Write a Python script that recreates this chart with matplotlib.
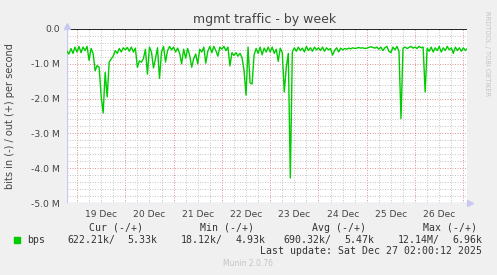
import numpy as np
import matplotlib.pyplot as plt

# hours relative to 19 Dec 00:00, one sample per hour
hours = np.arange(-5, 195)

# incoming traffic, in Mbit/s (drawn negative, munin style)
bps_in = [
    # 18 Dec 19:00-23:00
    -0.64, -0.72, -0.56, -0.70, -0.52,
    # 19 Dec
    -0.66, -0.50, -0.68, -0.52, -0.62, -0.50, -0.90, -0.56, -0.70, -1.20, -1.05, -1.10,
    -1.93, -2.41, -1.25, -1.95, -0.95, -0.86, -0.78, -0.62, -0.70, -0.56, -0.66, -0.54,
    # 20 Dec
    -0.60, -0.53, -0.64, -0.52, -0.66, -0.55, -1.10, -0.92, -0.95, -0.85, -0.58, -1.30,
    -0.52, -0.66, -1.12, -0.85, -0.54, -1.42, -0.66, -0.50, -0.95, -0.62, -0.50, -0.60,
    # 21 Dec
    -0.52, -0.66, -0.55, -0.70, -1.00, -0.58, -0.84, -0.56, -0.76, -1.10, -0.85, -0.72,
    -1.00, -0.58, -0.66, -0.52, -0.98, -0.64, -0.50, -0.68, -0.50, -0.62, -0.78, -0.52,
    # 22 Dec
    -0.58, -0.50, -0.62, -0.52, -1.06, -0.68, -0.76, -0.68, -0.78, -0.70, -0.82, -1.19,
    -1.90, -0.52, -1.55, -1.58, -0.75, -0.56, -0.70, -0.52, -0.74, -0.55, -0.66, -0.52,
    # 23 Dec
    -0.66, -0.52, -0.70, -0.58, -0.93, -0.55, -0.68, -1.81, -1.10, -0.70, -4.28, -0.66,
    -0.54, -0.64, -0.52, -0.62, -0.55, -0.66, -0.50, -0.62, -0.54, -0.64, -0.52, -0.60,
    # 24 Dec
    -0.54, -0.62, -0.52, -0.64, -0.54, -0.60, -0.56, -0.75, -0.62, -0.54, -0.66, -0.55,
    -0.60, -0.56, -0.58, -0.55, -0.57, -0.54, -0.56, -0.55, -0.53, -0.55, -0.54, -0.56,
    # 25 Dec
    -0.55, -0.53, -0.51, -0.53, -0.55, -0.52, -0.58, -0.52, -0.62, -0.54, -0.50, -0.64,
    -0.68, -0.52, -0.60, -0.50, -0.64, -2.57, -0.55, -0.52, -0.56, -0.53, -0.50, -0.55,
    # 26 Dec
    -0.52, -0.56, -0.50, -0.54, -0.52, -1.81, -0.55, -0.64, -0.52, -0.66, -0.54, -0.62,
    -0.50, -0.66, -0.54, -0.62, -0.50, -0.60, -0.54, -0.70, -0.52, -0.62, -0.54, -0.64,
    # 27 Dec 00:00-02:00
    -0.54, -0.62, -0.56,
]

day_labels = ["19 Dec", "20 Dec", "21 Dec", "22 Dec", "23 Dec", "24 Dec", "25 Dec", "26 Dec"]
y_ticks = [0, -1, -2, -3, -4, -5]
y_labels = ["0.0", "-1.0 M", "-2.0 M", "-3.0 M", "-4.0 M", "-5.0 M"]

headers = ["Cur (-/+)", "Min (-/+)", "Avg (-/+)", "Max (-/+)"]
in_stats = ["622.21k/", "18.12k/", "690.32k/", "12.14M/"]
out_stats = ["5.33k", "4.93k", "5.47k", "6.96k"]

W, H = 497, 275
fig = plt.figure(figsize=(W / 100, H / 100), dpi=100)
fig.patch.set_facecolor("#F0F0F0")

x0, x1, ytop, ybot = 67, 467, 29, 203
ax = fig.add_axes([x0 / W, 1 - ybot / H, (x1 - x0) / W, (ybot - ytop) / H])
ax.set_facecolor("white")

xmin, xmax = -4.97, 193.8
ax.set_xlim(xmin, xmax)
ax.set_ylim(-5, 0)

# grid: minor grey, major red (munin look)
dots = (0, (1, 1.5))
for h in np.arange(-6, 196, 6):
    if xmin < h < xmax:
        if h % 24 == 0:
            ax.axvline(h, color="#E09A9A", lw=0.72, ls=dots, zorder=1)
        else:
            ax.axvline(h, color="#C8C8C8", lw=0.72, ls=dots, zorder=1)
for v in np.arange(-5, 0.01, 0.2):
    v = round(v, 1)
    if v in (0, -5):
        continue
    if abs(v - round(v)) < 1e-6:
        ax.axhline(v, color="#E09A9A", lw=0.72, ls=dots, zorder=1)
    else:
        ax.axhline(v, color="#C8C8C8", lw=0.72, ls=dots, zorder=1)

ax.plot(hours, bps_in, color="#00CC00", lw=1.0, zorder=3)
ax.axhline(0, color="black", lw=1.2, zorder=4)

for s in ax.spines.values():
    s.set_visible(False)
ax.axvline(xmin, color="#C8C8F0", lw=1.0, zorder=2)
ax.axhline(-5, color="#C8C8F0", lw=1.0, zorder=2)
ax.plot([xmin], [0.1], marker="^", color="#C8C8F0", ms=4, clip_on=False, zorder=5)
ax.plot([xmax + 1.5], [-5], marker=">", color="#C8C8F0", ms=4, clip_on=False, zorder=5)

ax.set_xticks([12 + 24 * i for i in range(len(day_labels))])
ax.set_xticklabels(day_labels, fontsize=6.6, color="#444444")
ax.set_yticks(y_ticks)
ax.set_yticklabels(y_labels, fontsize=6.7, color="#444444")
ax.tick_params(length=0, pad=5)

fig.text(265 / W, 1 - 20 / H, "mgmt traffic - by week", ha="center", va="center",
         fontsize=9, color="#444444")
fig.text(10 / W, 1 - 116 / H, "bits in (-) / out (+) per second", rotation=90,
         ha="center", va="center", fontsize=7, color="#444444")
fig.text(487 / W, 1 - 54 / H, "RRDTOOL / TOBI OETIKER", rotation=270,
         ha="center", va="center", fontsize=4.8, color="#C4C4C4")

# legend block
mono = "DejaVu Sans Mono"
hdr_x = [89, 200, 312, 423]
in_end = [115, 223, 331, 440]
out_end = [157, 266, 374, 482]
for i in range(4):
    fig.text(hdr_x[i] / W, 1 - 228 / H, headers[i], family=mono, fontsize=7.1,
             ha="left", va="center", color="#333333")
    fig.text(in_end[i] / W, 1 - 240 / H, in_stats[i], family=mono, fontsize=7.1,
             ha="right", va="center", color="#333333")
    fig.text(out_end[i] / W, 1 - 240 / H, out_stats[i], family=mono, fontsize=7.1,
             ha="right", va="center", color="#333333")
fig.patches.append(plt.Rectangle((14 / W, 1 - 243 / H), 6 / W, 6 / H,
                                 transform=fig.transFigure, color="#00CC00"))
fig.text(27 / W, 1 - 240 / H, "bps", family=mono, fontsize=7.1, ha="left",
         va="center", color="#333333")
fig.text(482 / W, 1 - 251 / H, "Last update: Sat Dec 27 02:00:12 2025", family=mono,
         fontsize=7.1, ha="right", va="center", color="#333333")
fig.text(248 / W, 1 - 264 / H, "Munin 2.0.76", fontsize=5.5, ha="center",
         va="center", color="#C4C4C4")

fig.savefig("out.png", dpi=100, facecolor=fig.get_facecolor())
